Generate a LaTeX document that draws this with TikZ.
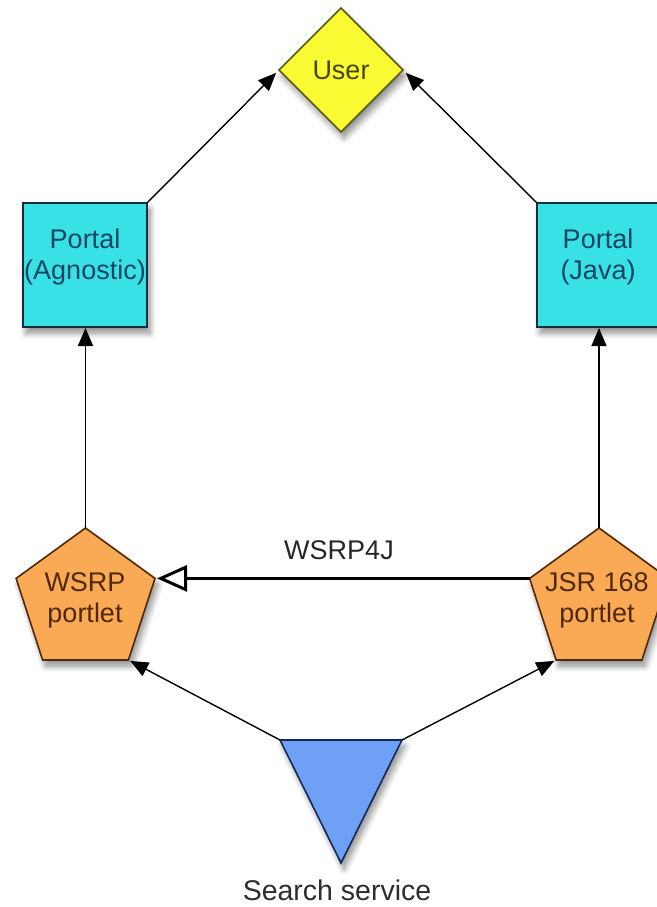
\documentclass[tikz,border=0pt]{standalone}
\usepackage{fontspec}
\setmainfont{Liberation Sans}
\usetikzlibrary{arrows.meta,shadows.blur}
\definecolor{userfill}{RGB}{250,250,50}
\definecolor{userline}{RGB}{90,90,20}
\definecolor{usertxt}{RGB}{70,70,20}
\definecolor{portfill}{RGB}{55,225,230}
\definecolor{portline}{RGB}{20,45,60}
\definecolor{porttxt}{RGB}{20,70,100}
\definecolor{pentfill}{RGB}{250,170,85}
\definecolor{pentline}{RGB}{80,40,10}
\definecolor{penttxt}{RGB}{80,40,10}
\definecolor{trifill}{RGB}{110,160,245}
\definecolor{triline}{RGB}{20,40,90}
\definecolor{labtxt}{RGB}{45,45,45}
\begin{document}
\begin{tikzpicture}[x=1pt,y=-1pt,
  font=\fontsize{27}{31}\selectfont,
  shapeshadow/.style={blur shadow={shadow xshift=3pt,shadow yshift=-6pt,shadow blur steps=8,shadow blur radius=6pt,shadow opacity=45}},
  userbox/.style={fill=userfill,draw=userline,line width=1.6pt,line join=miter,shapeshadow},
  portbox/.style={fill=portfill,draw=portline,line width=1.6pt,shapeshadow},
  pentbox/.style={fill=pentfill,draw=pentline,line width=1.6pt,shapeshadow},
  tribox/.style={fill=trifill,draw=triline,line width=1.6pt,shapeshadow},
  txt/.style={align=center,inner sep=0pt},
  arr/.style={draw=black,line width=1.4pt,-{Triangle[length=18pt,width=15pt]},shorten >=1pt},
  openarr/.style={draw=black,line width=3pt,-{Triangle[open,length=30pt,width=26pt,line width=3pt]}}
]
\useasboundingbox (0,0) rectangle (656,907);

% corner coordinates
\coordinate (uT) at (341,8);
\coordinate (uR) at (403,70);
\coordinate (uB) at (341,132);
\coordinate (uL) at (279,70);

\coordinate (paTL) at (23,203);
\coordinate (paTR) at (147,203);
\coordinate (paBR) at (147,327);
\coordinate (paBL) at (23,327);
\coordinate (paB) at (85.5,327);

\coordinate (pjTL) at (537,203);
\coordinate (pjTR) at (661,203);
\coordinate (pjBR) at (661,327);
\coordinate (pjBL) at (537,327);
\coordinate (pjB) at (599,327);

\coordinate (wT) at (85.5,528);
\coordinate (wR) at (155,578.4);
\coordinate (wBR) at (128.4,660);
\coordinate (wBL) at (42.6,660);
\coordinate (wL) at (16.1,578.4);

\coordinate (jT) at (599,528);
\coordinate (jR) at (668.4,578.4);
\coordinate (jBR) at (641.9,660);
\coordinate (jBL) at (556.1,660);
\coordinate (jL) at (529.6,578.4);

\coordinate (sTL) at (280,740);
\coordinate (sTR) at (402,740);
\coordinate (sB) at (341,863);

% shapes
\path[userbox] (uT) -- (uR) -- (uB) -- (uL) -- cycle;
\path[portbox] (paTL) -- (paTR) -- (paBR) -- (paBL) -- cycle;
\path[portbox] (pjTL) -- (pjTR) -- (pjBR) -- (pjBL) -- cycle;
\path[pentbox] (wT) -- (wR) -- (wBR) -- (wBL) -- (wL) -- cycle;
\path[pentbox] (jT) -- (jR) -- (jBR) -- (jBL) -- (jL) -- cycle;
\path[tribox] (sTL) -- (sTR) -- (sB) -- cycle;

% texts
\node[txt,text=usertxt] (user) at (341,70) {User};
\node[txt,text=porttxt] (portA) at (85,257) {Portal\\(Agnostic)};
\node[txt,text=porttxt] (portJ) at (598,257) {Portal\\(Java)};
\node[txt,text=penttxt] (wsrp) at (85,600) {WSRP\\portlet};
\node[txt,text=penttxt] (jsr) at (597,600) {JSR 168\\portlet};
\node[txt,text=labtxt,font=\fontsize{28.5}{32}\selectfont] (search) at (337,890) {Search service};
\node[txt,text=black!85] (wsrp4j) at (339,550) {WSRP4J};

% connectors
\draw[arr,shorten >=4pt] (paTR) -- (uL);
\draw[arr,shorten >=4pt] (pjTL) -- (uR);
\draw[arr] (wT) -- (paB);
\draw[arr] (jT) -- (pjB);
\draw[openarr,shorten >=2pt] (jL) -- (wR);
\draw[arr,shorten >=2pt] (sTL) -- (wBR);
\draw[arr,shorten >=2pt] (sTR) -- (jBL);
\end{tikzpicture}
\end{document}
